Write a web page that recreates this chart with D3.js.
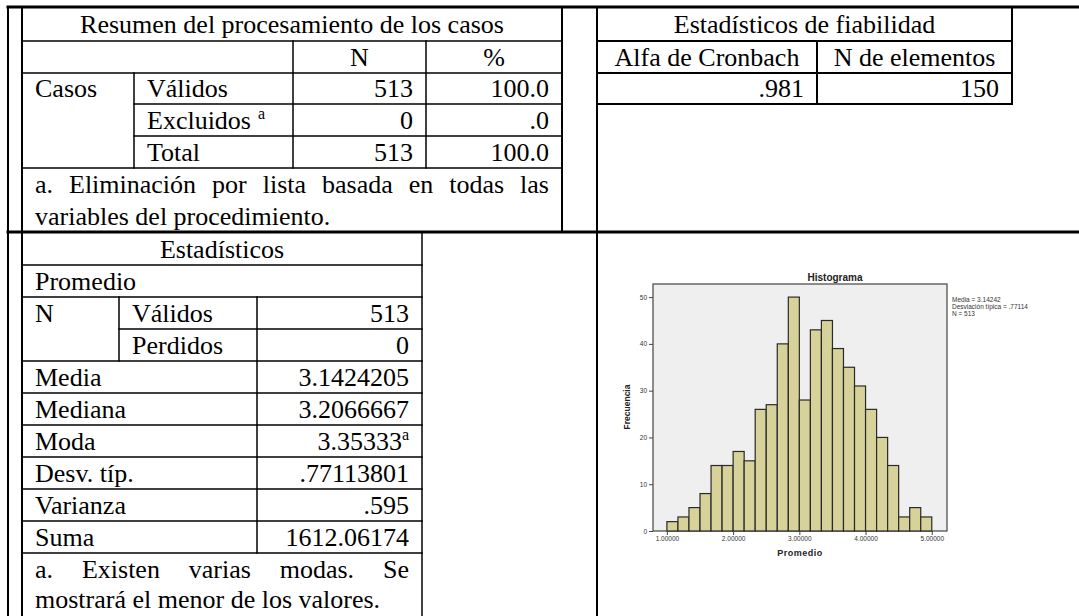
<!DOCTYPE html>
<html>
<head>
<meta charset="utf-8">
<script src="https://cdn.jsdelivr.net/npm/d3@7"></script>
<style>
  html, body { margin: 0; padding: 0; background: #fff; }
  svg { display: block; }
  .tbl { font-family: "Liberation Serif", "Times New Roman", serif; font-size: 26px; fill: #000; }
  .spss { font-family: "Liberation Sans", Arial, sans-serif; fill: #222; }
</style>
</head>
<body>
<svg id="chart" width="1079" height="616"></svg>
<script>
// --- table data ---
const resumenTitle = "Resumen del procesamiento de los casos";
const resumenCols = ["N", "%"];
const resumenGroup = "Casos";
const resumenLabels = ["Válidos", "Excluidos", "Total"];
const resumenN = ["513", "0", "513"];
const resumenPct = ["100.0", ".0", "100.0"];
const resumenNote = ["a. Eliminación por lista basada en todas las", "variables del procedimiento."];

const fiabTitle = "Estadísticos de fiabilidad";
const fiabCols = ["Alfa de Cronbach", "N de elementos"];
const fiabVals = [".981", "150"];

const statsTitle = "Estadísticos";
const statsVar = "Promedio";
const statsNLabels = ["Válidos", "Perdidos"];
const statsNVals = ["513", "0"];
const statsLabels = ["Media", "Mediana", "Moda", "Desv. típ.", "Varianza", "Suma"];
const statsVals = ["3.1424205", "3.2066667", "3.35333", ".77113801", ".595", "1612.06174"];
const statsNote = ["a. Existen varias modas. Se", "mostrará el menor de los valores."];

// --- histogram data ---
const binEdges = [1.0000, 1.1667, 1.3333, 1.5000, 1.6667, 1.8333, 2.0000, 2.1667, 2.3333,
  2.5000, 2.6667, 2.8333, 3.0000, 3.1667, 3.3333, 3.5000, 3.6667, 3.8333, 4.0000,
  4.1667, 4.3333, 4.5000, 4.6667, 4.8333, 5.0000];
const counts = [2, 3, 5, 8, 14, 14, 17, 15, 26, 27, 40, 50, 28, 43, 45, 39, 35, 31, 26, 20, 14, 3, 5, 3];
const xTicks = [1, 2, 3, 4, 5];
const yTicks = [0, 10, 20, 30, 40, 50];
const legendLines = ["Media = 3.14242", "Desviación típica = .77114", "N = 513"];

const svg = d3.select("#chart");
svg.append("rect").attr("width", 1079).attr("height", 616).attr("fill", "#fff");

const gLines = svg.append("g").attr("stroke", "#000").attr("stroke-linecap", "square");
function hline(y, x1, x2, w){ gLines.append("line").attr("x1",x1).attr("x2",x2).attr("y1",y).attr("y2",y).attr("stroke-width", w || 1.5); }
function vline(x, y1, y2, w){ gLines.append("line").attr("x1",x).attr("x2",x).attr("y1",y1).attr("y2",y2).attr("stroke-width", w || 1.5); }

const T = svg.append("g").attr("class", "tbl");
const FS = 26, PAD = 13;
function txt(s, x, cy, anchor){
  return T.append("text").attr("x", x).attr("y", cy + FS*0.33).attr("text-anchor", anchor || "start").text(s);
}
function supTxt(s, sup, x, cy, anchor, gap){
  const t = T.append("text").attr("x", x).attr("y", cy + FS*0.33).attr("text-anchor", anchor || "start");
  t.append("tspan").text(s);
  t.append("tspan").attr("font-size", 16).attr("dy", -10).attr("dx", gap || 0).text(sup);
  return t;
}
// spread words over a full line width like justified text
function justify(s, x0, x1, cy){
  const words = s.split(" ");
  const nodes = words.map(w => txt(w, 0, cy));
  const widths = nodes.map(n => n.node().getComputedTextLength());
  const gap = (x1 - x0 - d3.sum(widths)) / (words.length - 1);
  let x = x0;
  nodes.forEach((n, i) => { n.attr("x", x); x += widths[i] + gap; });
}

// ---- outer frame ----
hline(7, 8, 1079, 3);
vline(8, 7, 616, 2);
vline(22, 7, 616, 2);
vline(562, 7, 232, 2);
vline(597, 7, 616, 2);
hline(232, 8, 1079, 3);

// ---- Resumen table ----
const R = { x0: 22, c1: 134, c2: 293, c3: 426, x1: 562, rows: [7, 41, 73, 104, 136, 168] };
hline(R.rows[1], R.x0, R.x1); hline(R.rows[2], R.x0, R.x1);
hline(R.rows[3], R.c1, R.x1); hline(R.rows[4], R.c1, R.x1);
hline(R.rows[5], R.x0, R.x1);
vline(R.c1, R.rows[2], R.rows[5]);
vline(R.c2, R.rows[1], R.rows[5]);
vline(R.c3, R.rows[1], R.rows[5]);
const rc = i => (R.rows[i] + R.rows[i+1]) / 2;
txt(resumenTitle, (R.x0 + R.x1)/2, rc(0), "middle");
txt(resumenCols[0], (R.c2 + R.c3)/2, rc(1), "middle");
txt(resumenCols[1], (R.c3 + R.x1)/2, rc(1), "middle");
txt(resumenGroup, R.x0 + PAD, rc(2));
resumenLabels.forEach((l, i) => {
  if (i === 1) supTxt(l, "a", R.c1 + PAD, rc(2+i), "start", 7);
  else txt(l, R.c1 + PAD, rc(2+i));
  txt(resumenN[i], R.c3 - PAD, rc(2+i), "end");
  txt(resumenPct[i], R.x1 - PAD, rc(2+i), "end");
});
justify(resumenNote[0], R.x0 + PAD, R.x1 - PAD, 184);
txt(resumenNote[1], R.x0 + PAD, 216);

// ---- Fiabilidad table ----
const F = { x0: 597, c1: 817, x1: 1012, rows: [8, 41, 73, 104] };
hline(F.rows[1], F.x0, F.x1, 2); hline(F.rows[2], F.x0, F.x1, 2); hline(F.rows[3], F.x0, F.x1, 2);
vline(F.c1, F.rows[1], F.rows[3], 2);
vline(F.x1, F.rows[0], F.rows[3], 2);
const fc = i => (F.rows[i] + F.rows[i+1]) / 2;
txt(fiabTitle, (F.x0 + F.x1)/2, fc(0), "middle");
txt(fiabCols[0], (F.x0 + F.c1)/2, fc(1), "middle");
txt(fiabCols[1], (F.c1 + F.x1)/2, fc(1), "middle");
txt(fiabVals[0], F.c1 - PAD, fc(2), "end");
txt(fiabVals[1], F.x1 - PAD, fc(2), "end");

// ---- Estadisticos table ----
const S = { x0: 22, c1: 119, c2: 257, x1: 422, top: 232, step: 32 };
const sy = i => S.top + i * S.step + 1;
for (let i = 1; i <= 10; i++) hline(sy(i), i === 3 ? S.c1 : S.x0, S.x1);
vline(S.c1, sy(2), sy(4));
vline(S.c2, sy(2), sy(10));
vline(S.x1, S.top, 616);
const sc = i => sy(i) + S.step/2;
txt(statsTitle, (S.x0 + S.x1)/2, sc(0), "middle");
txt(statsVar, S.x0 + PAD, sc(1));
txt("N", S.x0 + PAD, sc(2));
statsNLabels.forEach((l, i) => {
  txt(l, S.c1 + PAD, sc(2+i));
  txt(statsNVals[i], S.x1 - PAD, sc(2+i), "end");
});
statsLabels.forEach((l, i) => {
  txt(l, S.x0 + PAD, sc(4+i));
  if (i === 2) supTxt(statsVals[i], "a", S.x1 - PAD, sc(4+i), "end", 0);
  else txt(statsVals[i], S.x1 - PAD, sc(4+i), "end");
});
justify(statsNote[0], S.x0 + PAD, S.x1 - PAD, sc(10));
txt(statsNote[1], S.x0 + PAD, sc(11) - 2);

// ---- Histogram ----
const H = svg.append("g").attr("class", "spss");
const x = d3.scaleLinear().domain([0.79, 5.23]).range([653, 947]);
const y = d3.scaleLinear().domain([0, 52.8]).range([531, 284]);
H.append("rect").attr("x", x.range()[0]).attr("y", y.range()[1])
  .attr("width", x.range()[1] - x.range()[0]).attr("height", y.range()[0] - y.range()[1])
  .attr("fill", "#efefef").attr("stroke", "#444").attr("stroke-width", 1.2);
const bins = counts.map((c, i) => ({ x0: binEdges[i], x1: binEdges[i+1], c }));
H.append("g").selectAll("rect").data(bins).enter().append("rect")
  .attr("x", d => x(d.x0)).attr("y", d => y(d.c))
  .attr("width", d => x(d.x1) - x(d.x0)).attr("height", d => y(0) - y(d.c))
  .attr("fill", "#d6d29a").attr("stroke", "#2a2a2a").attr("stroke-width", 1.2);

const yAx = H.append("g").attr("transform", `translate(${x.range()[0]},0)`)
  .call(d3.axisLeft(y).tickValues(yTicks).tickSize(4).tickPadding(2).tickFormat(d3.format("d")));
const xAx = H.append("g").attr("transform", `translate(0,${y.range()[0]})`)
  .call(d3.axisBottom(x).tickValues(xTicks).tickSize(4).tickPadding(1).tickFormat(d3.format(".5f")));
[yAx, xAx].forEach(a => {
  a.select(".domain").remove();
  a.selectAll("line").attr("stroke", "#444");
  a.selectAll("text").attr("font-family", "Liberation Sans, Arial, sans-serif").attr("font-size", 6.5).attr("fill", "#333");
});

H.append("text").attr("x", 835).attr("y", 281).attr("text-anchor", "middle")
  .attr("font-size", 10).attr("font-weight", "bold").text("Histograma");
H.append("text").attr("x", 800).attr("y", 556).attr("text-anchor", "middle")
  .attr("font-size", 9).attr("font-weight", "bold").attr("letter-spacing", 0.5).text("Promedio");
H.append("text").attr("transform", "translate(630,407) rotate(-90)").attr("text-anchor", "middle")
  .attr("font-size", 8.5).attr("font-weight", "bold").text("Frecuencia");
H.append("g").selectAll("text").data(legendLines).enter().append("text")
  .attr("x", 952).attr("y", (d, i) => 302 + i * 7)
  .attr("font-size", 6.5).attr("fill", "#333").text(d => d);
</script>
</body>
</html>
